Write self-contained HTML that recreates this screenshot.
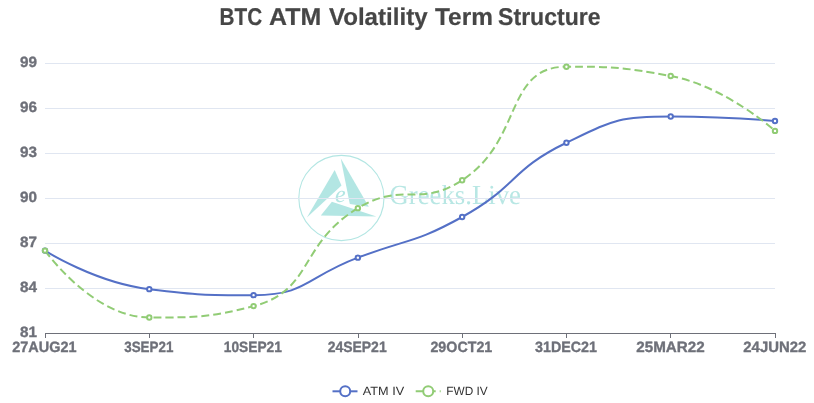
<!DOCTYPE html>
<html><head><meta charset="utf-8"><style>
html,body{margin:0;padding:0;background:#fff;width:814px;height:403px;overflow:hidden}
svg{display:block;will-change:transform}
</style></head><body>
<svg width="814" height="403" viewBox="0 0 814 403" text-rendering="geometricPrecision" font-family='"Liberation Sans", sans-serif'>
<rect width="814" height="403" fill="#fff"/>
<g id="wm">
<circle cx="341.4" cy="198" r="42.6" fill="none" stroke="#b3e6e3" stroke-width="1.1"/>
<polygon points="334.7,169.9 341.5,185.5 306.9,217.5" fill="#b3e6e3"/>
<polygon points="340.7,158.3 349.8,204 368.8,206.8" fill="#b3e6e3"/>
<polygon points="331.9,201.8 320.8,215.5 376.4,216.5" fill="#b3e6e3"/>
<text x="335" y="201.8" font-family='"Liberation Serif", serif' font-style="italic" font-size="24" fill="#b3e6e3">e</text>
<text x="389.5" y="204.1" font-family='"Liberation Serif", serif' font-size="27.5" fill="#b8e7e4" textLength="131.5" lengthAdjust="spacingAndGlyphs">Greeks.Live</text>
</g>
<g><line x1="45" y1="63.5" x2="775" y2="63.5" stroke="#E0E6F1" stroke-width="1"/><line x1="45" y1="108.5" x2="775" y2="108.5" stroke="#E0E6F1" stroke-width="1"/><line x1="45" y1="153.5" x2="775" y2="153.5" stroke="#E0E6F1" stroke-width="1"/><line x1="45" y1="198.5" x2="775" y2="198.5" stroke="#E0E6F1" stroke-width="1"/><line x1="45" y1="243.5" x2="775" y2="243.5" stroke="#E0E6F1" stroke-width="1"/><line x1="45" y1="288.5" x2="775" y2="288.5" stroke="#E0E6F1" stroke-width="1"/></g>
<line x1="45" y1="333.5" x2="775" y2="333.5" stroke="#6E7079" stroke-width="1"/>
<g><line x1="45.5" y1="333" x2="45.5" y2="338" stroke="#6E7079" stroke-width="1"/><line x1="149.5" y1="333" x2="149.5" y2="338" stroke="#6E7079" stroke-width="1"/><line x1="253.5" y1="333" x2="253.5" y2="338" stroke="#6E7079" stroke-width="1"/><line x1="358.5" y1="333" x2="358.5" y2="338" stroke="#6E7079" stroke-width="1"/><line x1="462.5" y1="333" x2="462.5" y2="338" stroke="#6E7079" stroke-width="1"/><line x1="566.5" y1="333" x2="566.5" y2="338" stroke="#6E7079" stroke-width="1"/><line x1="670.5" y1="333" x2="670.5" y2="338" stroke="#6E7079" stroke-width="1"/><line x1="775.5" y1="333" x2="775.5" y2="338" stroke="#6E7079" stroke-width="1"/></g>
<g font-size="14.9" font-weight="bold" fill="#6E7079" stroke="#6E7079" stroke-width="0.35"><text x="37" y="66.85" text-anchor="end" textLength="17" lengthAdjust="spacingAndGlyphs">99</text><text x="37" y="111.85" text-anchor="end" textLength="17" lengthAdjust="spacingAndGlyphs">96</text><text x="37" y="156.85" text-anchor="end" textLength="17" lengthAdjust="spacingAndGlyphs">93</text><text x="37" y="201.85" text-anchor="end" textLength="17" lengthAdjust="spacingAndGlyphs">90</text><text x="37" y="246.85" text-anchor="end" textLength="17" lengthAdjust="spacingAndGlyphs">87</text><text x="37" y="291.85" text-anchor="end" textLength="17" lengthAdjust="spacingAndGlyphs">84</text><text x="37" y="336.85" text-anchor="end" textLength="17" lengthAdjust="spacingAndGlyphs">81</text></g>
<g font-size="14.9" font-weight="bold" fill="#6E7079" stroke="#6E7079" stroke-width="0.35"><text x="12.26" y="351.5" textLength="64.3" lengthAdjust="spacingAndGlyphs">27AUG21</text><text x="124.25" y="351.5" textLength="49.1" lengthAdjust="spacingAndGlyphs">3SEP21</text><text x="223.75" y="351.5" textLength="58.1" lengthAdjust="spacingAndGlyphs">10SEP21</text><text x="327.65" y="351.5" textLength="59.0" lengthAdjust="spacingAndGlyphs">24SEP21</text><text x="430.45" y="351.5" textLength="61.8" lengthAdjust="spacingAndGlyphs">29OCT21</text><text x="535.00" y="351.5" textLength="61.9" lengthAdjust="spacingAndGlyphs">31DEC21</text><text x="636.25" y="351.5" textLength="68.4" lengthAdjust="spacingAndGlyphs">25MAR22</text><text x="743.35" y="351.5" textLength="62.9" lengthAdjust="spacingAndGlyphs">24JUN22</text></g>
<path d="M45.00,250.60 C45.00,250.60 95.52,282.76 149.29,289.15 C199.80,295.15 202.97,295.15 253.57,295.15 C307.26,295.15 305.97,277.09 357.86,257.65 C410.26,238.02 413.50,243.80 462.14,217.00 C517.78,186.35 509.75,170.06 566.43,142.75 C614.04,119.81 617.79,116.50 670.71,116.50 C722.08,116.50 775.00,121.00 775.00,121.00" fill="none" stroke="#5470c6" stroke-width="2" stroke-linejoin="bevel"/>
<path d="M45.00,250.60 C45.00,250.60 92.81,317.50 149.29,317.50 C197.10,317.50 209.45,317.50 253.57,306.10 C313.74,290.55 298.42,244.01 357.86,208.15 C402.71,181.09 419.19,208.15 462.14,180.25 C523.48,140.40 504.32,66.70 566.43,66.70 C608.61,66.70 621.65,66.70 670.71,76.00 C725.94,86.47 775.00,130.90 775.00,130.90" fill="none" stroke="#91cc75" stroke-width="2" stroke-dasharray="8,4" stroke-linejoin="bevel"/>
<g><circle cx="45.00" cy="250.60" r="2.2" fill="#fff" stroke="#5470c6" stroke-width="2"/><circle cx="149.29" cy="289.15" r="2.2" fill="#fff" stroke="#5470c6" stroke-width="2"/><circle cx="253.57" cy="295.15" r="2.2" fill="#fff" stroke="#5470c6" stroke-width="2"/><circle cx="357.86" cy="257.65" r="2.2" fill="#fff" stroke="#5470c6" stroke-width="2"/><circle cx="462.14" cy="217.00" r="2.2" fill="#fff" stroke="#5470c6" stroke-width="2"/><circle cx="566.43" cy="142.75" r="2.2" fill="#fff" stroke="#5470c6" stroke-width="2"/><circle cx="670.71" cy="116.50" r="2.2" fill="#fff" stroke="#5470c6" stroke-width="2"/><circle cx="775.00" cy="121.00" r="2.2" fill="#fff" stroke="#5470c6" stroke-width="2"/></g>
<g><circle cx="45.00" cy="250.60" r="2.2" fill="#fff" stroke="#91cc75" stroke-width="2"/><circle cx="149.29" cy="317.50" r="2.2" fill="#fff" stroke="#91cc75" stroke-width="2"/><circle cx="253.57" cy="306.10" r="2.2" fill="#fff" stroke="#91cc75" stroke-width="2"/><circle cx="357.86" cy="208.15" r="2.2" fill="#fff" stroke="#91cc75" stroke-width="2"/><circle cx="462.14" cy="180.25" r="2.2" fill="#fff" stroke="#91cc75" stroke-width="2"/><circle cx="566.43" cy="66.70" r="2.2" fill="#fff" stroke="#91cc75" stroke-width="2"/><circle cx="670.71" cy="76.00" r="2.2" fill="#fff" stroke="#91cc75" stroke-width="2"/><circle cx="775.00" cy="130.90" r="2.2" fill="#fff" stroke="#91cc75" stroke-width="2"/></g>
<g font-size="24.2" font-weight="bold" fill="#464646" stroke="#464646" stroke-width="0.2"><text x="219.5" y="24.5" textLength="42.7" lengthAdjust="spacingAndGlyphs">BTC</text><text x="269.1" y="24.5" textLength="52.2" lengthAdjust="spacingAndGlyphs">ATM</text><text x="328.9" y="24.5" textLength="98.7" lengthAdjust="spacingAndGlyphs">Volatility</text><text x="435" y="24.5" textLength="58" lengthAdjust="spacingAndGlyphs">Term</text><text x="498.1" y="24.5" textLength="102.5" lengthAdjust="spacingAndGlyphs">Structure</text></g>
<g id="legend">
<line x1="332.5" y1="391.3" x2="357.5" y2="391.3" stroke="#5470c6" stroke-width="2"/>
<circle cx="345.2" cy="391.3" r="5" fill="#fff" stroke="#5470c6" stroke-width="2"/>
<text x="362.8" y="394.6" font-size="12" fill="#333" textLength="41.4" lengthAdjust="spacingAndGlyphs">ATM IV</text>
<line x1="415.7" y1="391.3" x2="440.7" y2="391.3" stroke="#91cc75" stroke-width="2" stroke-dasharray="8,4"/>
<circle cx="428.2" cy="391.3" r="5" fill="#fff" stroke="#91cc75" stroke-width="2"/>
<text x="446.3" y="394.6" font-size="12" fill="#333" textLength="41.4" lengthAdjust="spacingAndGlyphs">FWD IV</text>
</g>
</svg>
</body></html>
